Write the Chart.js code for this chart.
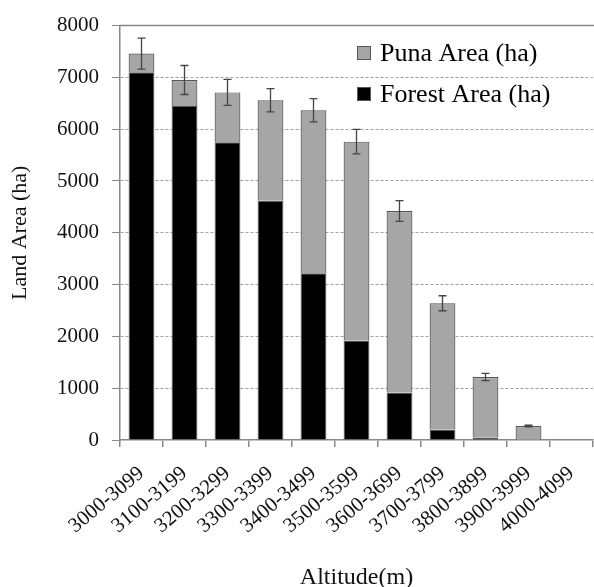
<!DOCTYPE html>
<html>
<head>
<meta charset="utf-8">
<script src="https://cdn.jsdelivr.net/npm/chart.js@4.4.1/dist/chart.umd.min.js"></script>
<style>
  body { margin: 0; background: #fff; }
  #wrap { position: relative; width: 594px; height: 587px; }
</style>
</head>
<body>
<div id="wrap"><canvas id="myChart"></canvas></div>
<script>
const ctx = document.getElementById("myChart");

const serif = "'Liberation Serif', 'Times New Roman', serif";

var labels = [
  "3000-3099", "3100-3199", "3200-3299", "3300-3399", "3400-3499", "3500-3599",
  "3600-3699", "3700-3799", "3800-3899", "3900-3999", "4000-4099"
];
var forestArea = [7100, 6450, 5750, 4620, 3220, 1920, 915, 205, 50, 5, 0];
var punaArea = [360, 500, 960, 1940, 3145, 3840, 3505, 2435, 1165, 265, 20];
var totalError = [300, 280, 250, 225, 225, 235, 200, 145, 70, 15, 0];
var yTicks = [0, 1000, 2000, 3000, 4000, 5000, 6000, 7000, 8000];

// error bars on top of each stack
const errorBars = {
  id: "errorBars",
  afterDatasetsDraw(chart) {
    const c = chart.ctx;
    const xs = chart.scales.x;
    const ys = chart.scales.y;
    c.save();
    c.strokeStyle = "#444";
    c.lineWidth = 1.3;
    for (let i = 0; i < labels.length; i++) {
      if (!totalError[i]) continue;
      let total = forestArea[i] + punaArea[i];
      let x = xs.getPixelForValue(i);
      let yTop = ys.getPixelForValue(total + totalError[i]);
      let yBot = ys.getPixelForValue(total - totalError[i]);
      c.beginPath();
      c.moveTo(x, yTop); c.lineTo(x, yBot);
      c.moveTo(x - 4, yTop); c.lineTo(x + 4, yTop);
      c.moveTo(x - 4, yBot); c.lineTo(x + 4, yBot);
      c.stroke();
    }
    c.restore();
  }
};

// solid top frame line + legend inside the plot
const frameAndLegend = {
  id: "frameAndLegend",
  afterDraw(chart) {
    const c = chart.ctx;
    const a = chart.chartArea;
    c.save();
    c.strokeStyle = "#888";
    c.lineWidth = 1.5;
    c.beginPath();
    c.moveTo(a.left, a.top); c.lineTo(a.right + 1, a.top);
    c.stroke();

    let items = chart.data.datasets.slice().reverse();
    c.font = "26px " + serif;
    c.textBaseline = "middle";
    items.forEach((ds, k) => {
      let y = 53 + k * 41;
      c.fillStyle = ds.backgroundColor;
      c.strokeStyle = "#555";
      c.lineWidth = 1;
      c.fillRect(357, y - 7, 14, 14);
      c.strokeRect(357.5, y - 6.5, 13, 13);
      c.fillStyle = "#000";
      c.fillText(ds.label, 380, y + 1);
    });
    c.restore();
  }
};

var config = {
  type: "bar",
  data: {
    labels: labels,
    datasets: [
      {
        label: "Forest Area (ha)",
        data: forestArea,
        backgroundColor: "#000000",
        borderColor: "#555555",
        borderWidth: 1,
        barPercentage: 0.6,
        categoryPercentage: 1
      },
      {
        label: "Puna Area (ha)",
        data: punaArea,
        backgroundColor: "#a6a6a6",
        borderColor: "#555555",
        borderWidth: 1.2,
        barPercentage: 0.6,
        categoryPercentage: 1
      }
    ]
  },
  options: {
    responsive: true,
    maintainAspectRatio: false,
    animation: false,
    layout: { padding: { top: 23, right: 1, left: 0, bottom: 0 } },
    scales: {
      x: {
        stacked: true,
        grid: { drawOnChartArea: false, tickLength: 7, color: "#888", lineWidth: 1.5 },
        border: { color: "#888", width: 1.5 },
        ticks: {
          color: "#111",
          font: { family: serif, size: 21 },
          minRotation: 40,
          maxRotation: 40,
          padding: 14,
          autoSkip: false
        },
        title: {
          display: true,
          text: "Altitude(m)",
          color: "#111",
          font: { family: serif, size: 24, lineHeight: 1 },
          padding: { top: 0, bottom: -3 }
        },
        afterFit: (scale) => {
          scale.height = 147;
          scale.paddingLeft = 0;
          scale.paddingRight = 0;
        }
      },
      y: {
        stacked: true,
        min: 0,
        max: 8000,
        afterBuildTicks: (scale) => { scale.ticks = yTicks.map(v => ({ value: v })); },
        grid: {
          color: (c) => (c.tick && (c.tick.value === 0 || c.tick.value === 8000)) ? "rgba(0,0,0,0)" : "#a0a0a0",
          tickColor: "#888",
          tickLength: 8,
          lineWidth: 1,
          tickBorderDash: [0, 0]
        },
        border: { color: "#888", width: 1.5, dash: [3, 2] },
        ticks: {
          color: "#111",
          font: { family: serif, size: 21 },
          padding: 13,
          callback: (v) => String(v)
        },
        title: {
          display: true,
          text: "Land Area (ha)",
          color: "#111",
          font: { family: serif, size: 22 },
          padding: { top: 7, bottom: 0 }
        },
        afterFit: (scale) => { scale.width = 120; }
      }
    },
    plugins: {
      legend: { display: false },
      tooltip: { enabled: false }
    }
  },
  plugins: [errorBars, frameAndLegend]
};

var chart = new Chart(ctx, config);
</script>
</body>
</html>
